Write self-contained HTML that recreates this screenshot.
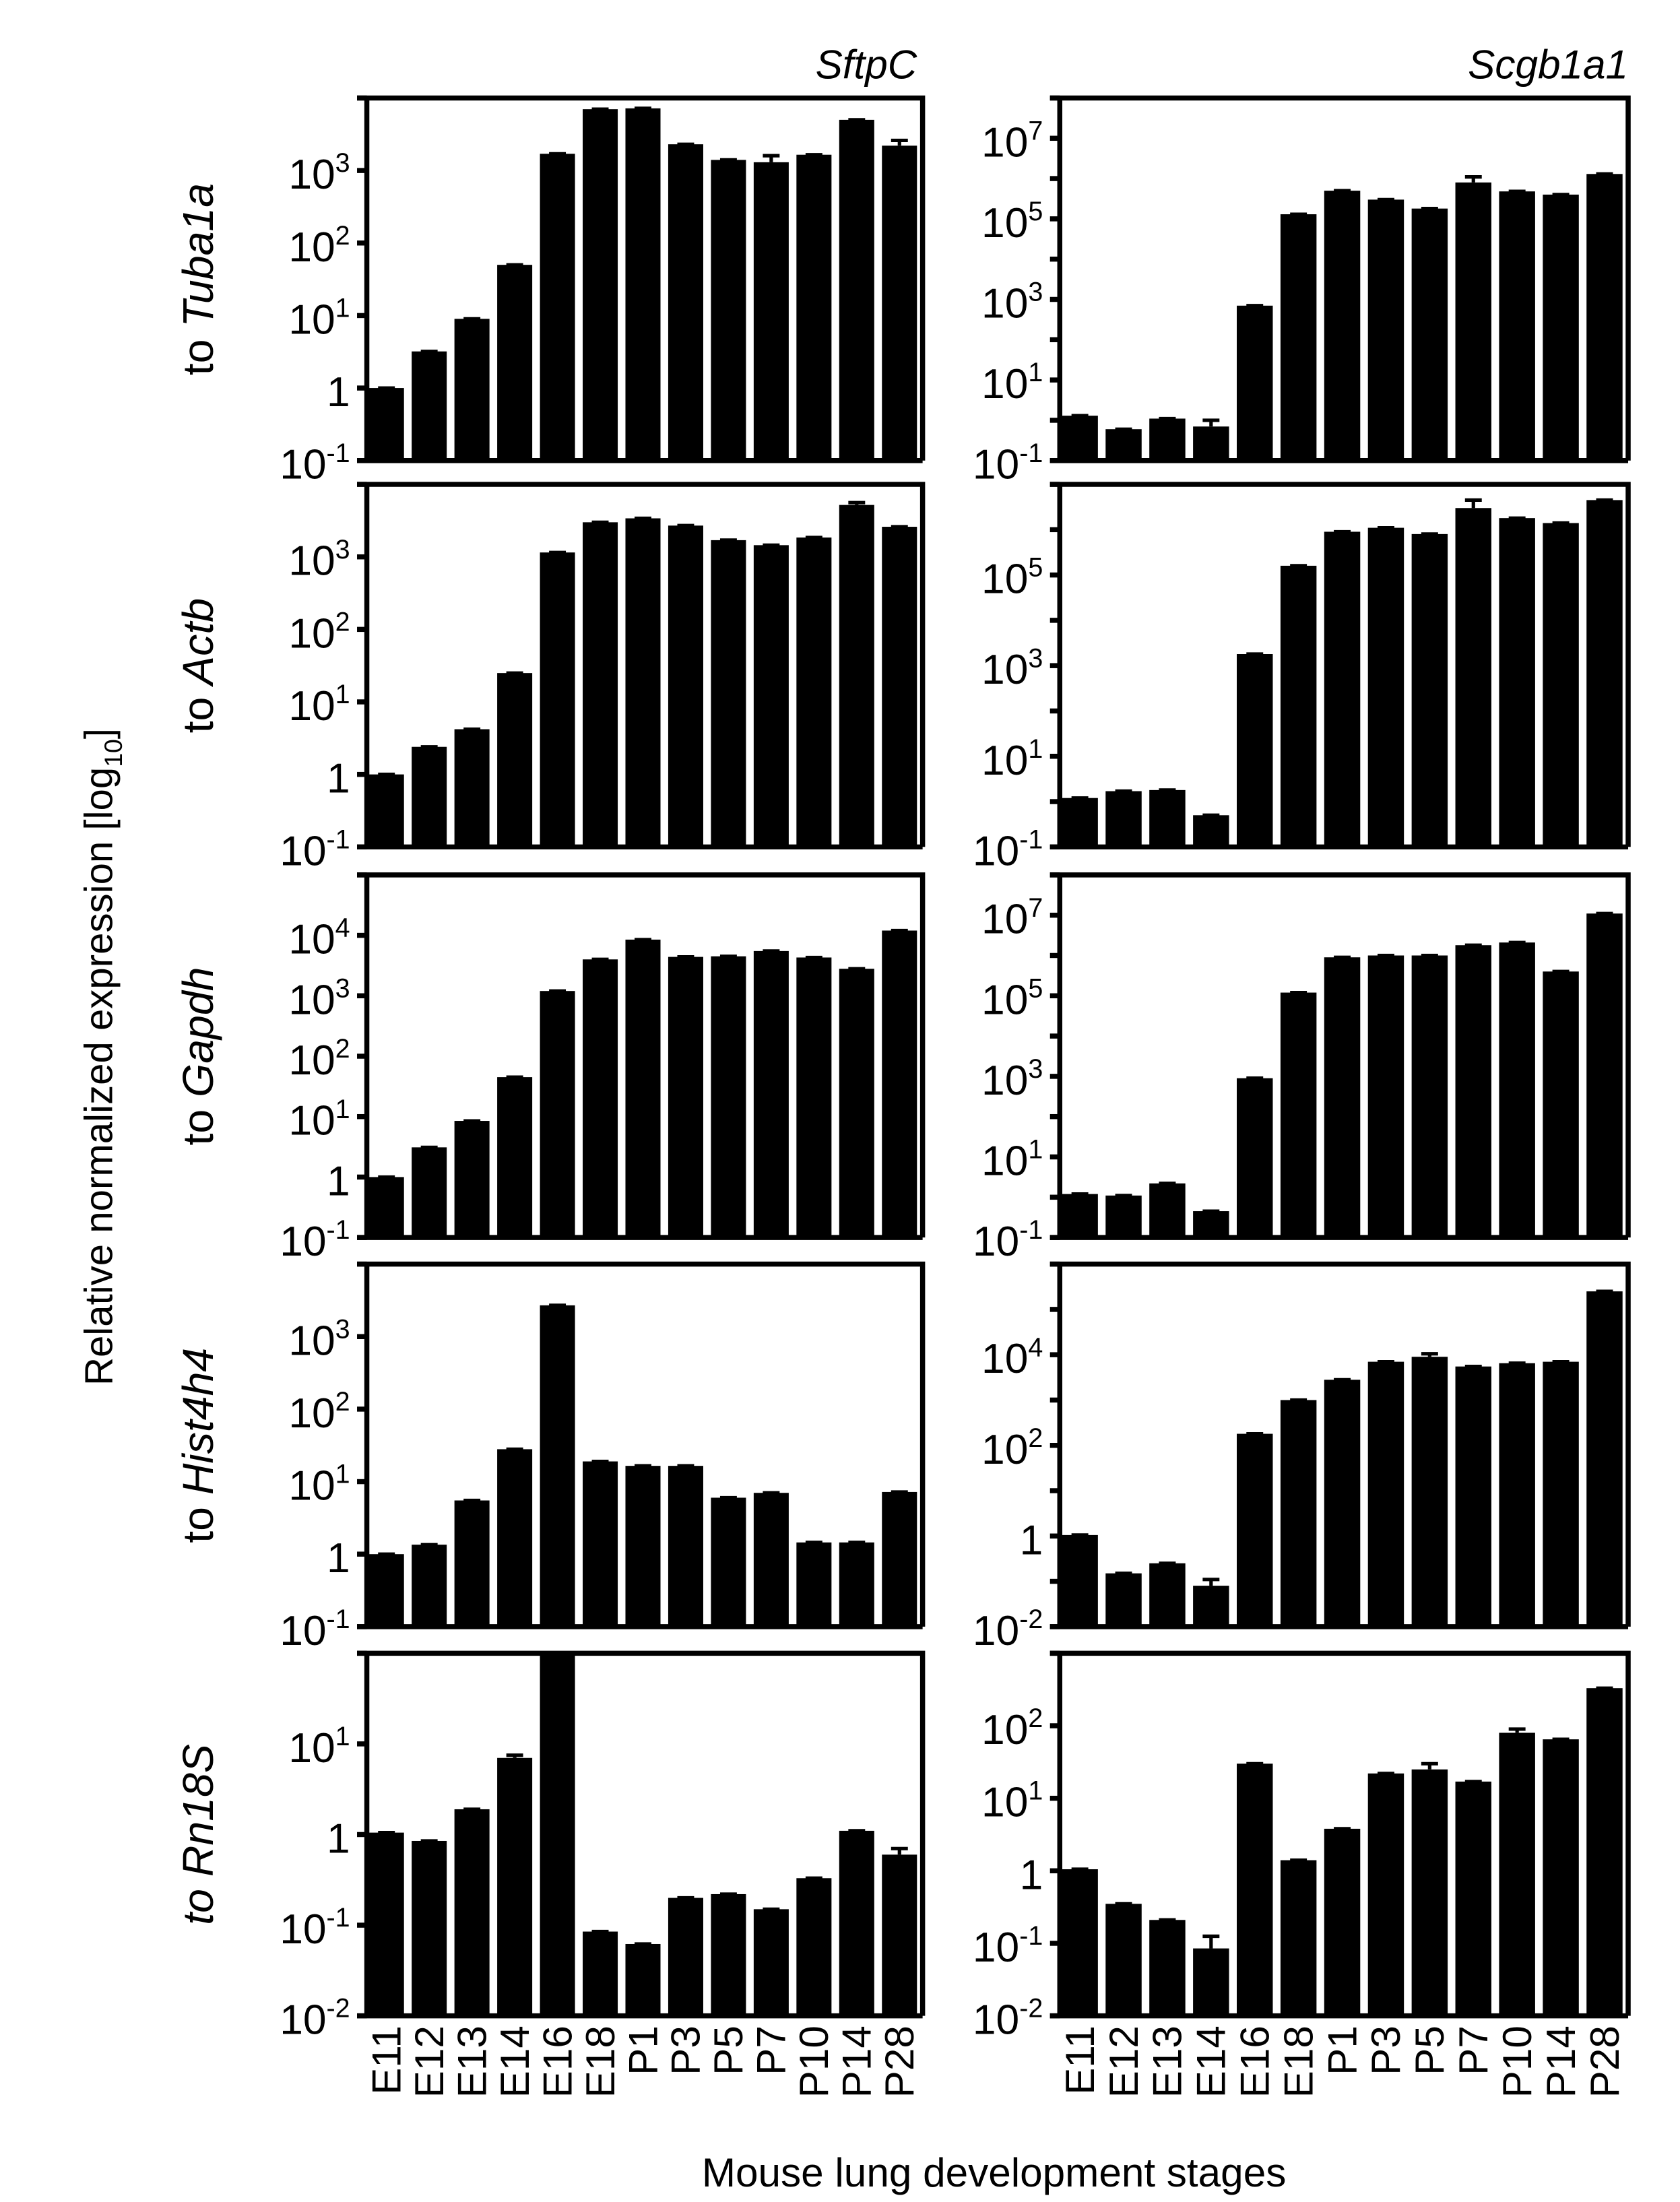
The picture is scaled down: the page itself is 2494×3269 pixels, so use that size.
<!DOCTYPE html>
<html><head><meta charset="utf-8"><style>
html,body{margin:0;padding:0;background:#fff;}
svg{display:block;}
text{font-family:"Liberation Sans",Arial,sans-serif;fill:#000;}
</style></head>
<body>
<svg id="fig" width="2494" height="3269" viewBox="0 0 1200 1573" xmlns="http://www.w3.org/2000/svg">
<text x="655" y="56" font-size="29" font-style="italic" text-anchor="end">SftpC</text>
<text x="1163" y="56" font-size="29" font-style="italic" text-anchor="end">Scgb1a1</text>
<text transform="translate(80,755) rotate(-90)" font-size="28" text-anchor="middle">Relative normalized expression [log<tspan font-size="18" dy="7">10</tspan><tspan dy="-7">]</tspan></text>
<text x="710" y="1562" font-size="29" text-anchor="middle">Mouse lung development stages</text>
<g id="panels"></g>
</svg>
<script>
const categories = ["E11","E12","E13","E14","E16","E18","P1","P3","P5","P7","P10","P14","P28"];
const refGenes = ["Tuba1a","Actb","Gapdh","Hist4h4","Rn18S"];
const sftpcValues = [
 [1,3.2,9,50,1700,7000,7200,2300,1400,1300,1650,5000,2200],
 [1,2.4,4.2,25,1150,3000,3400,2700,1700,1450,1850,5200,2600],
 [1,3.1,8.5,45,1200,4000,8500,4400,4500,5500,4300,2800,12000],
 [1,1.35,5.5,28,2700,19,16.5,16.5,6,7,1.45,1.45,7.2],
 [1.05,0.85,1.9,7,95,0.085,0.062,0.2,0.22,0.15,0.33,1.1,0.6]
];
const sftpcErrors = [
 [0,0,0,0,0,0,0,0,0,300,0,0,400],
 [0,0,0,0,0,0,0,0,0,0,0,400,0],
 [0,0,0,0,0,0,0,0,0,0,0,0,0],
 [0,0,0,0,0,0,0,0,0,0,0,0,0],
 [0,0,0,0.5,0,0,0,0,0,0,0,0,0.1]
];
const scgbValues = [
 [1.3,0.6,1.1,0.7,700,130000,500000,300000,180000,800000,480000,400000,1300000],
 [1.2,1.7,1.8,0.5,1800,160000,900000,1100000,800000,3000000,1800000,1400000,4500000],
 [1.2,1.1,2.2,0.45,900,120000,900000,1000000,1000000,1800000,2100000,400000,11000000],
 [1.05,0.15,0.25,0.08,180,1000,2800,7000,9000,5500,6500,7000,250000],
 [1.05,0.35,0.21,0.085,30,1.4,3.8,22,25,17,80,65,330]
];
const scgbErrors = [
 [0,0,0,0.3,0,0,0,0,0,300000,0,0,0],
 [0,0,0,0,0,0,0,0,0,1500000,0,0,0],
 [0,0,0,0,0,0,0,0,0,0,0,0,0],
 [0,0,0,0.03,0,0,0,0,1500,0,0,0,0],
 [0,0,0,0.04,0,0,0,0,5,0,10,0,0]
];
const sftpcRanges = [[-1,4,1],[-1,4,1],[-1,5,1],[-1,4,1],[-2,2,1]];
const scgbRanges = [[-1,8,2],[-1,7,2],[-1,8,2],[-2,6,2],[-2,3,1]];

const NS="http://www.w3.org/2000/svg";
const root=document.getElementById('panels');
const rowTops=[70,346,625,903,1181];
const H=259;
const cols=[{x0:262,x1:659,vals:sftpcValues,errs:sftpcErrors,ranges:sftpcRanges,name:'sftpc'},
            {x0:757,x1:1163,vals:scgbValues,errs:scgbErrors,ranges:scgbRanges,name:'scgb1a1'}];
function mk(tag,attrs,parent){const e=document.createElementNS(NS,tag);for(const k in attrs)e.setAttribute(k,attrs[k]);(parent||root).appendChild(e);return e;}
function labelText(p,x,y,exp){
  const t=mk('text',{x:x,y:y,'font-size':30,'text-anchor':'end'},p);
  
  
  if(exp===0){t.textContent='1';return;}
  const a=document.createElementNS(NS,'tspan');a.textContent='10';t.appendChild(a);
  const b=document.createElementNS(NS,'tspan');b.setAttribute('font-size','19');b.setAttribute('dy','-12');b.textContent=String(exp);t.appendChild(b);
}
cols.forEach((c,ci)=>{
  rowTops.forEach((top,ri)=>{
    const g=mk('g',{});
    
    
    const [lo,hi,step]=c.ranges[ri];
    const bot=top+H;
    const y=v=>bot-(Math.log10(v)-lo)/(hi-lo)*H;
    const n=categories.length;
    const pitch=(c.x1-c.x0)/n;
    const bw=pitch-5.5;
    const vals=c.vals[ri], errs=c.errs[ri];
    vals.forEach((v,i)=>{
      const bx=c.x0+1.5+i*pitch;
      const yt=Math.max(y(v),top);
      const r=mk('rect',{x:bx,y:yt,width:bw,height:bot-yt,fill:'#000'},g);
      
      
      const e=errs[i];
      const ye=Math.max(y(v+e),top);
      const cx=bx+bw/2;
      const eb=mk('path',{d:`M${cx} ${yt} V${ye} M${cx-6} ${ye} H${cx+6}`,stroke:'#000','stroke-width':2.5,fill:'none'},g);
      
      
    });
    const fr=mk('path',{d:`M${c.x0-7} ${top} H${c.x1} V${bot} M${c.x0} ${top} V${bot} M${c.x0-7} ${bot} H${c.x1}`,stroke:'#000','stroke-width':3.6,fill:'none'},g);
    
    
    for(let k=lo;k<=hi;k++){
      const yy=bot-(k-lo)/(hi-lo)*H;
      const tk=mk('line',{x1:c.x0-7,x2:c.x0,y1:yy,y2:yy,stroke:'#000','stroke-width':3.6},g);
      
      
      if((k-lo)%step===0 && k<hi) labelText(g,c.x0-12,yy+13,k);
    }
    if(ci===0){
      const t=mk('text',{transform:`translate(152,${top+H/2}) rotate(-90)`,'font-size':31,'text-anchor':'middle'},g);
      
      
      if(ri===4){t.setAttribute('font-style','italic');t.textContent='to '+refGenes[ri];}
      else{t.appendChild(document.createTextNode('to '));const s=document.createElementNS(NS,'tspan');s.setAttribute('font-style','italic');s.textContent=refGenes[ri];t.appendChild(s);}
    }
    if(ri===4){
      categories.forEach((cat,i)=>{
        const cx=c.x0+1.5+i*pitch+bw/2;
        const t=mk('text',{transform:`translate(${cx+10},1447) rotate(-90)`,'font-size':29,'text-anchor':'end'},g);
        
        
        t.textContent=cat;
      });
    }
  });
});
</script>
</body></html>
